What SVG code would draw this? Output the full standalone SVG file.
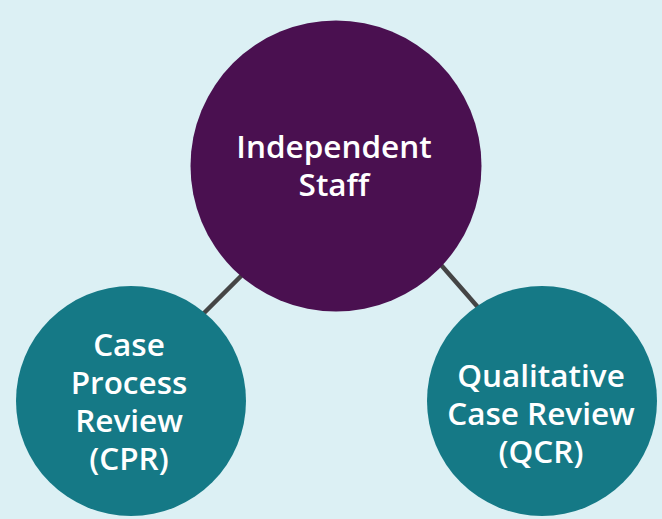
<svg xmlns="http://www.w3.org/2000/svg" width="662" height="519" viewBox="0 0 662 519">
<style>
.bg{fill:#dcf0f4}
.hub{fill:#4a1050}
.leaf{fill:#157986}
.conn{stroke:#454545;stroke-width:4.5;fill:none}
.lbl{fill:#ffffff;font-family:"Open Sans","Noto Sans","Liberation Sans",sans-serif;font-weight:600;font-size:31.5px;text-anchor:middle}
</style>
<rect class="bg" x="0" y="0" width="662" height="519"/>
<g id="connectors">
<line class="conn" x1="190" y1="327" x2="255" y2="262"/>
<line class="conn" x1="428" y1="250" x2="490" y2="321"/>
</g>
<g id="independent-staff">
<circle class="hub" cx="336" cy="166" r="145.5"/>
<text class="lbl" x="334" y="158">Independent</text>
<text class="lbl" x="334" y="196">Staff</text>
</g>
<g id="cpr">
<circle class="leaf" cx="131" cy="401" r="115"/>
<text class="lbl" x="129" y="356">Case</text>
<text class="lbl" x="129" y="394">Process</text>
<text class="lbl" x="129" y="432">Review</text>
<text class="lbl" x="129" y="470">(CPR)</text>
</g>
<g id="qcr">
<circle class="leaf" cx="542" cy="401" r="115"/>
<text class="lbl" x="541" y="387">Qualitative</text>
<text class="lbl" x="541" y="425">Case Review</text>
<text class="lbl" x="541" y="463">(QCR)</text>
</g>
</svg>
